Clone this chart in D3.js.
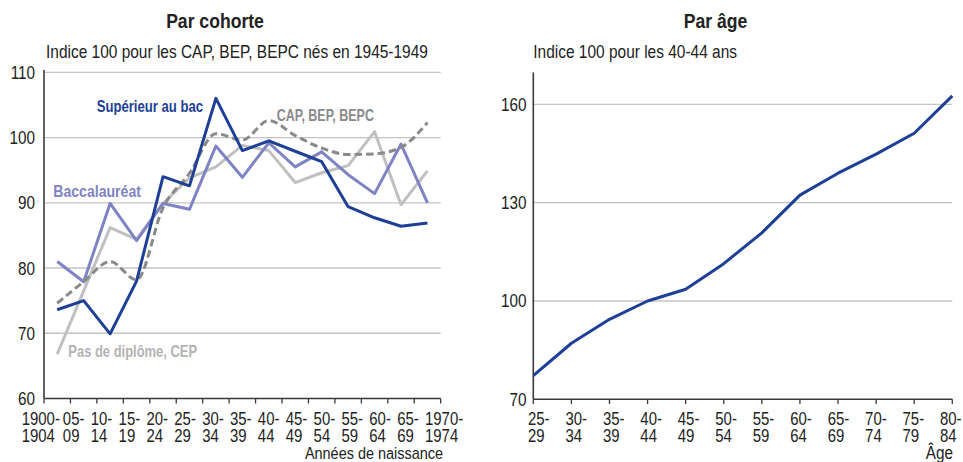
<!DOCTYPE html>
<html><head><meta charset="utf-8">
<script src="https://cdn.jsdelivr.net/npm/d3@7/dist/d3.min.js"></script>
<style>
body{margin:0;background:#fff;}
svg{display:block;font-family:"Liberation Sans Narrow","Liberation Sans",Arial,sans-serif;}
</style></head><body>
<svg id="c" width="963" height="462"></svg>
<script>
// ---- data ----
const cohorts = [["1900-","1904"],["05-","09"],["10-","14"],["15-","19"],["20-","24"],["25-","29"],["30-","34"],["35-","39"],["40-","44"],["45-","49"],["50-","54"],["55-","59"],["60-","64"],["65-","69"],["1970-","1974"]];
const superieur = [73.6,75.0,69.9,78.0,94.0,92.6,106.0,98.0,99.5,97.9,96.3,89.4,87.7,86.4,86.9];
const bac       = [81.0,77.9,89.9,84.2,89.9,89.0,98.7,93.9,99.2,95.5,97.8,94.3,91.4,99.0,90.0];
const capBep    = [74.6,77.9,81.0,78.2,89.2,94.5,100.6,99.6,102.6,100.3,98.4,97.4,97.5,98.5,102.3];
const sansDip   = [66.8,76.5,86.2,84.4,89.9,93.8,95.5,98.8,98.0,93.1,94.6,95.7,100.9,89.7,94.9];
const leftTicks = [60,70,80,90,100,110];

const ages = [["25-","29"],["30-","34"],["35-","39"],["40-","44"],["45-","49"],["50-","54"],["55-","59"],["60-","64"],["65-","69"],["70-","74"],["75-","79"],["80-","84"]];
const ageIndex = [77.2,87.1,94.4,100.0,103.6,111.4,120.8,132.3,139.0,144.8,151.2,162.6];
const rightTicks = [70,100,130,160];

const svg = d3.select("#c");
const axisCol = "#3a3a3a", gridCol = "#c4c4c4", txtCol = "#222";

// condensed text helper (narrow font look)
function T(parent, x, y, lines, o) {
  o = Object.assign({size:18, weight:"normal", fill:txtCol, anchor:"start", k:0.85, lh:16.7}, o||{});
  const t = parent.append("text")
    .attr("transform", `translate(${x},${y}) scale(${o.k},1)`)
    .attr("font-size", o.size).attr("font-weight", o.weight)
    .attr("fill", o.fill).attr("text-anchor", o.anchor);
  [].concat(lines).forEach((s,i)=>{
    const ts = t.append("tspan").attr("x",0).attr("y", i*o.lh).text(s);
    if (o.dy) ts.attr("dy", o.dy);
  });
  t.k = o.k;
  return t;
}

// ---- left panel ----
const xL = d3.scaleBand().domain(d3.range(cohorts.length)).range([44, 440.7]);
const xLlab = d3.scalePoint().domain(d3.range(cohorts.length)).range([35, 425]);
const yL = d3.scaleLinear().domain([60,110]).range([398.5, 72.3]);

const gL = svg.append("g");
gL.selectAll("line.grid").data(leftTicks.filter(t=>t>60)).join("line")
  .attr("x1",44).attr("x2",440.7).attr("y1",d=>yL(d)).attr("y2",d=>yL(d))
  .attr("stroke",gridCol).attr("stroke-width",1.3);
leftTicks.forEach(d=>T(gL, 35, yL(d), String(d), {anchor:"end", dy:"0.36em"}));
const bounds = d3.range(cohorts.length+1).map(i=> i<cohorts.length ? xL(i) : xL.range()[1]);
gL.selectAll("line.xt").data(bounds).join("line")
  .attr("x1",d=>d).attr("x2",d=>d).attr("y1",398.5).attr("y2",403.5)
  .attr("stroke",axisCol).attr("stroke-width",1.3);
gL.append("line").attr("x1",44).attr("x2",440.7).attr("y1",398.5).attr("y2",398.5).attr("stroke",axisCol).attr("stroke-width",1.6);
gL.append("line").attr("x1",44).attr("x2",44).attr("y1",70).attr("y2",398.5).attr("stroke",axisCol).attr("stroke-width",1.6);
cohorts.forEach((d,i)=>{
  const t = T(gL, xLlab(i), 425, d, {k:0.83});
  if (i === 0) { // wide first label ends just before the next one
    const w = t.node().getBBox().width * t.k;
    t.attr("transform", `translate(${xLlab(1)-3-w},425) scale(${t.k},1)`);
  }
});
T(gL, 443, 459, "Années de naissance", {anchor:"end", size:17});

const cx = i => xL(i)+xL.bandwidth()/2;
const lineL = d3.line().x((d,i)=>cx(i)).y(d=>yL(d));
const lineLs = d3.line().x((d,i)=>cx(i)).y(d=>yL(d)).curve(d3.curveMonotoneX);
gL.append("path").datum(sansDip).attr("d",lineL).attr("fill","none").attr("stroke","#c0c0c0").attr("stroke-width",3).attr("stroke-linejoin","round");
gL.append("path").datum(bac).attr("d",lineL).attr("fill","none").attr("stroke","#7f83c3").attr("stroke-width",3).attr("stroke-linejoin","round");
gL.append("path").datum(capBep).attr("d",lineLs).attr("fill","none").attr("stroke","#8a8a8a").attr("stroke-width",3).attr("stroke-dasharray","7.5,4");
gL.append("path").datum(superieur).attr("d",lineL).attr("fill","none").attr("stroke","#1e3f96").attr("stroke-width",3).attr("stroke-linejoin","round");

const bold = (x,y,t,c,k)=>T(gL, x, y, t, {size:16, weight:"bold", fill:c, k:k});
bold(96.7,111.5,"Supérieur au bac","#1e3f96",0.82);
bold(276.7,120.5,"CAP, BEP, BEPC","#8a8a8a",0.78);
bold(53.3,196.5,"Baccalauréat","#7f83c3",0.88);
bold(68.3,356.5,"Pas de diplôme, CEP","#b3b3b3",0.81);

T(svg, 215, 28.3, "Par cohorte", {anchor:"middle", size:20, weight:"bold", k:0.88});
T(svg, 46, 58.3, "Indice 100 pour les CAP, BEP, BEPC nés en 1945-1949", {size:18, k:0.86});

// ---- right panel ----
const xR = d3.scalePoint().domain(d3.range(ages.length)).range([533.3, 952.3]);
const xRlab = d3.scalePoint().domain(d3.range(ages.length)).range([528, 940]);
const yR = d3.scaleLinear().domain([70,170]).range([399.3, 71.6]);
const gR = svg.append("g");
gR.selectAll("line.grid").data(rightTicks.filter(t=>t>70)).join("line")
  .attr("x1",533.3).attr("x2",952.3).attr("y1",d=>yR(d)).attr("y2",d=>yR(d))
  .attr("stroke",gridCol).attr("stroke-width",1.3);
rightTicks.forEach(d=>T(gR, 526.5, yR(d), String(d), {anchor:"end", dy:"0.36em"}));
gR.selectAll("line.xt").data(d3.range(ages.length)).join("line")
  .attr("x1",i=>xR(i)).attr("x2",i=>xR(i)).attr("y1",399.3).attr("y2",404)
  .attr("stroke",axisCol).attr("stroke-width",1.3);
gR.append("line").attr("x1",533.3).attr("x2",952.3).attr("y1",399.3).attr("y2",399.3).attr("stroke",axisCol).attr("stroke-width",1.6);
gR.append("line").attr("x1",533.3).attr("x2",533.3).attr("y1",72.5).attr("y2",399.3).attr("stroke",axisCol).attr("stroke-width",1.6);
ages.forEach((d,i)=>T(gR, xRlab(i), 425, d, {k:0.83}));
T(gR, 953, 459, "Âge", {anchor:"end", size:18});
gR.append("path").datum(ageIndex)
  .attr("d",d3.line().x((d,i)=>xR(i)).y(d=>yR(d)))
  .attr("fill","none").attr("stroke","#1e3f96").attr("stroke-width",3).attr("stroke-linejoin","round");

T(svg, 715.5, 28.3, "Par âge", {anchor:"middle", size:20, weight:"bold", k:0.88});
T(svg, 533.3, 58.3, "Indice 100 pour les 40-44 ans", {size:18, k:0.86});
</script></body></html>
